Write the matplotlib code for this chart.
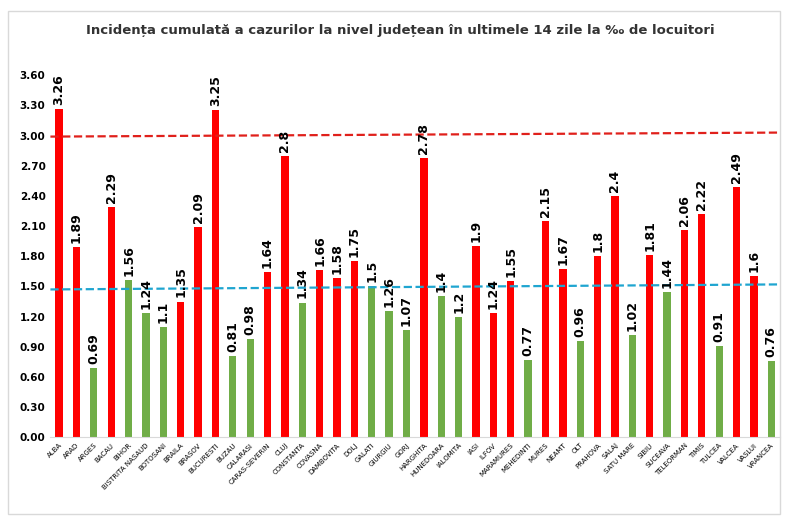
import numpy as np
import matplotlib.pyplot as plt

judete = ["ALBA", "ARAD", "ARGES", "BACAU", "BIHOR", "BISTRITA NASAUD", "BOTOSANI",
          "BRAILA", "BRASOV", "BUCURESTI", "BUZAU", "CALARASI", "CARAS-SEVERIN", "CLUJ",
          "CONSTANTA", "COVASNA", "DAMBOVITA", "DOLJ", "GALATI", "GIURGIU", "GORJ",
          "HARGHITA", "HUNEDOARA", "IALOMITA", "IASI", "ILFOV", "MARAMURES", "MEHEDINTI",
          "MURES", "NEAMT", "OLT", "PRAHOVA", "SALAJ", "SATU MARE", "SIBIU", "SUCEAVA",
          "TELEORMAN", "TIMIS", "TULCEA", "VALCEA", "VASLUI", "VRANCEA"]
valori = [3.26, 1.89, 0.69, 2.29, 1.56, 1.24, 1.1, 1.35, 2.09, 3.25, 0.81, 0.98, 1.64, 2.8,
          1.34, 1.66, 1.58, 1.75, 1.5, 1.26, 1.07, 2.78, 1.4, 1.2, 1.9, 1.24, 1.55, 0.77,
          2.15, 1.67, 0.96, 1.8, 2.4, 1.02, 1.81, 1.44, 2.06, 2.22, 0.91, 2.49, 1.6, 0.76]
rosu = [1, 1, 0, 1, 0, 0, 0, 1, 1, 1, 0, 0, 1, 1, 0, 1, 1, 1, 0, 0, 0,
        1, 0, 0, 1, 1, 1, 0, 1, 1, 0, 1, 1, 0, 1, 0, 1, 1, 0, 1, 1, 0]
prag_rosu = [2.99, 3.03]
prag_albastru = [1.47, 1.52]

fig = plt.figure(figsize=(8, 5.3), dpi=100)
ax = fig.add_axes([0.063, 0.175, 0.912, 0.683])
x = np.arange(len(judete))
culori = ["#ff0000" if r else "#70ad47" for r in rosu]
ax.bar(x, valori, width=0.42, color=culori, zorder=2)
for xi, v in zip(x, valori):
    ax.text(xi, v + 0.04, f"{v:g}", rotation=90, ha="center", va="bottom",
            fontsize=9, fontweight="bold", zorder=4)

ax.plot([-0.5, len(judete) - 0.5], prag_rosu, ls="--", color="#e0201b", lw=1.6, zorder=3)
ax.plot([-0.5, len(judete) - 0.5], prag_albastru, ls="--", color="#1fa5d0", lw=1.6, zorder=3)

ax.set_xlim(-0.5, len(judete) - 0.5)
ax.set_ylim(0, 3.6)
ax.set_yticks(np.arange(0, 3.61, 0.3))
ax.set_yticklabels([f"{t:.2f}" for t in np.arange(0, 3.61, 0.3)], fontsize=7.5, fontweight="bold")
ax.set_xticks(x)
ax.set_xticklabels(judete, rotation=45, ha="right", rotation_mode="anchor", fontsize=5)
ax.tick_params(length=0)
for s in ["top", "right", "left"]:
    ax.spines[s].set_visible(False)
ax.spines["bottom"].set_color("#d9d9d9")

fig.text(0.5, 0.935, "Incidența cumulată a cazurilor la nivel județean în ultimele 14 zile la ‰ de locuitori",
         ha="center", fontsize=9.5, fontweight="bold", color="#333333")
fig.patches.append(plt.Rectangle((0.01, 0.03), 0.965, 0.95, transform=fig.transFigure,
                                 fill=False, ec="#d9d9d9", lw=1))
fig.savefig("out.png")
